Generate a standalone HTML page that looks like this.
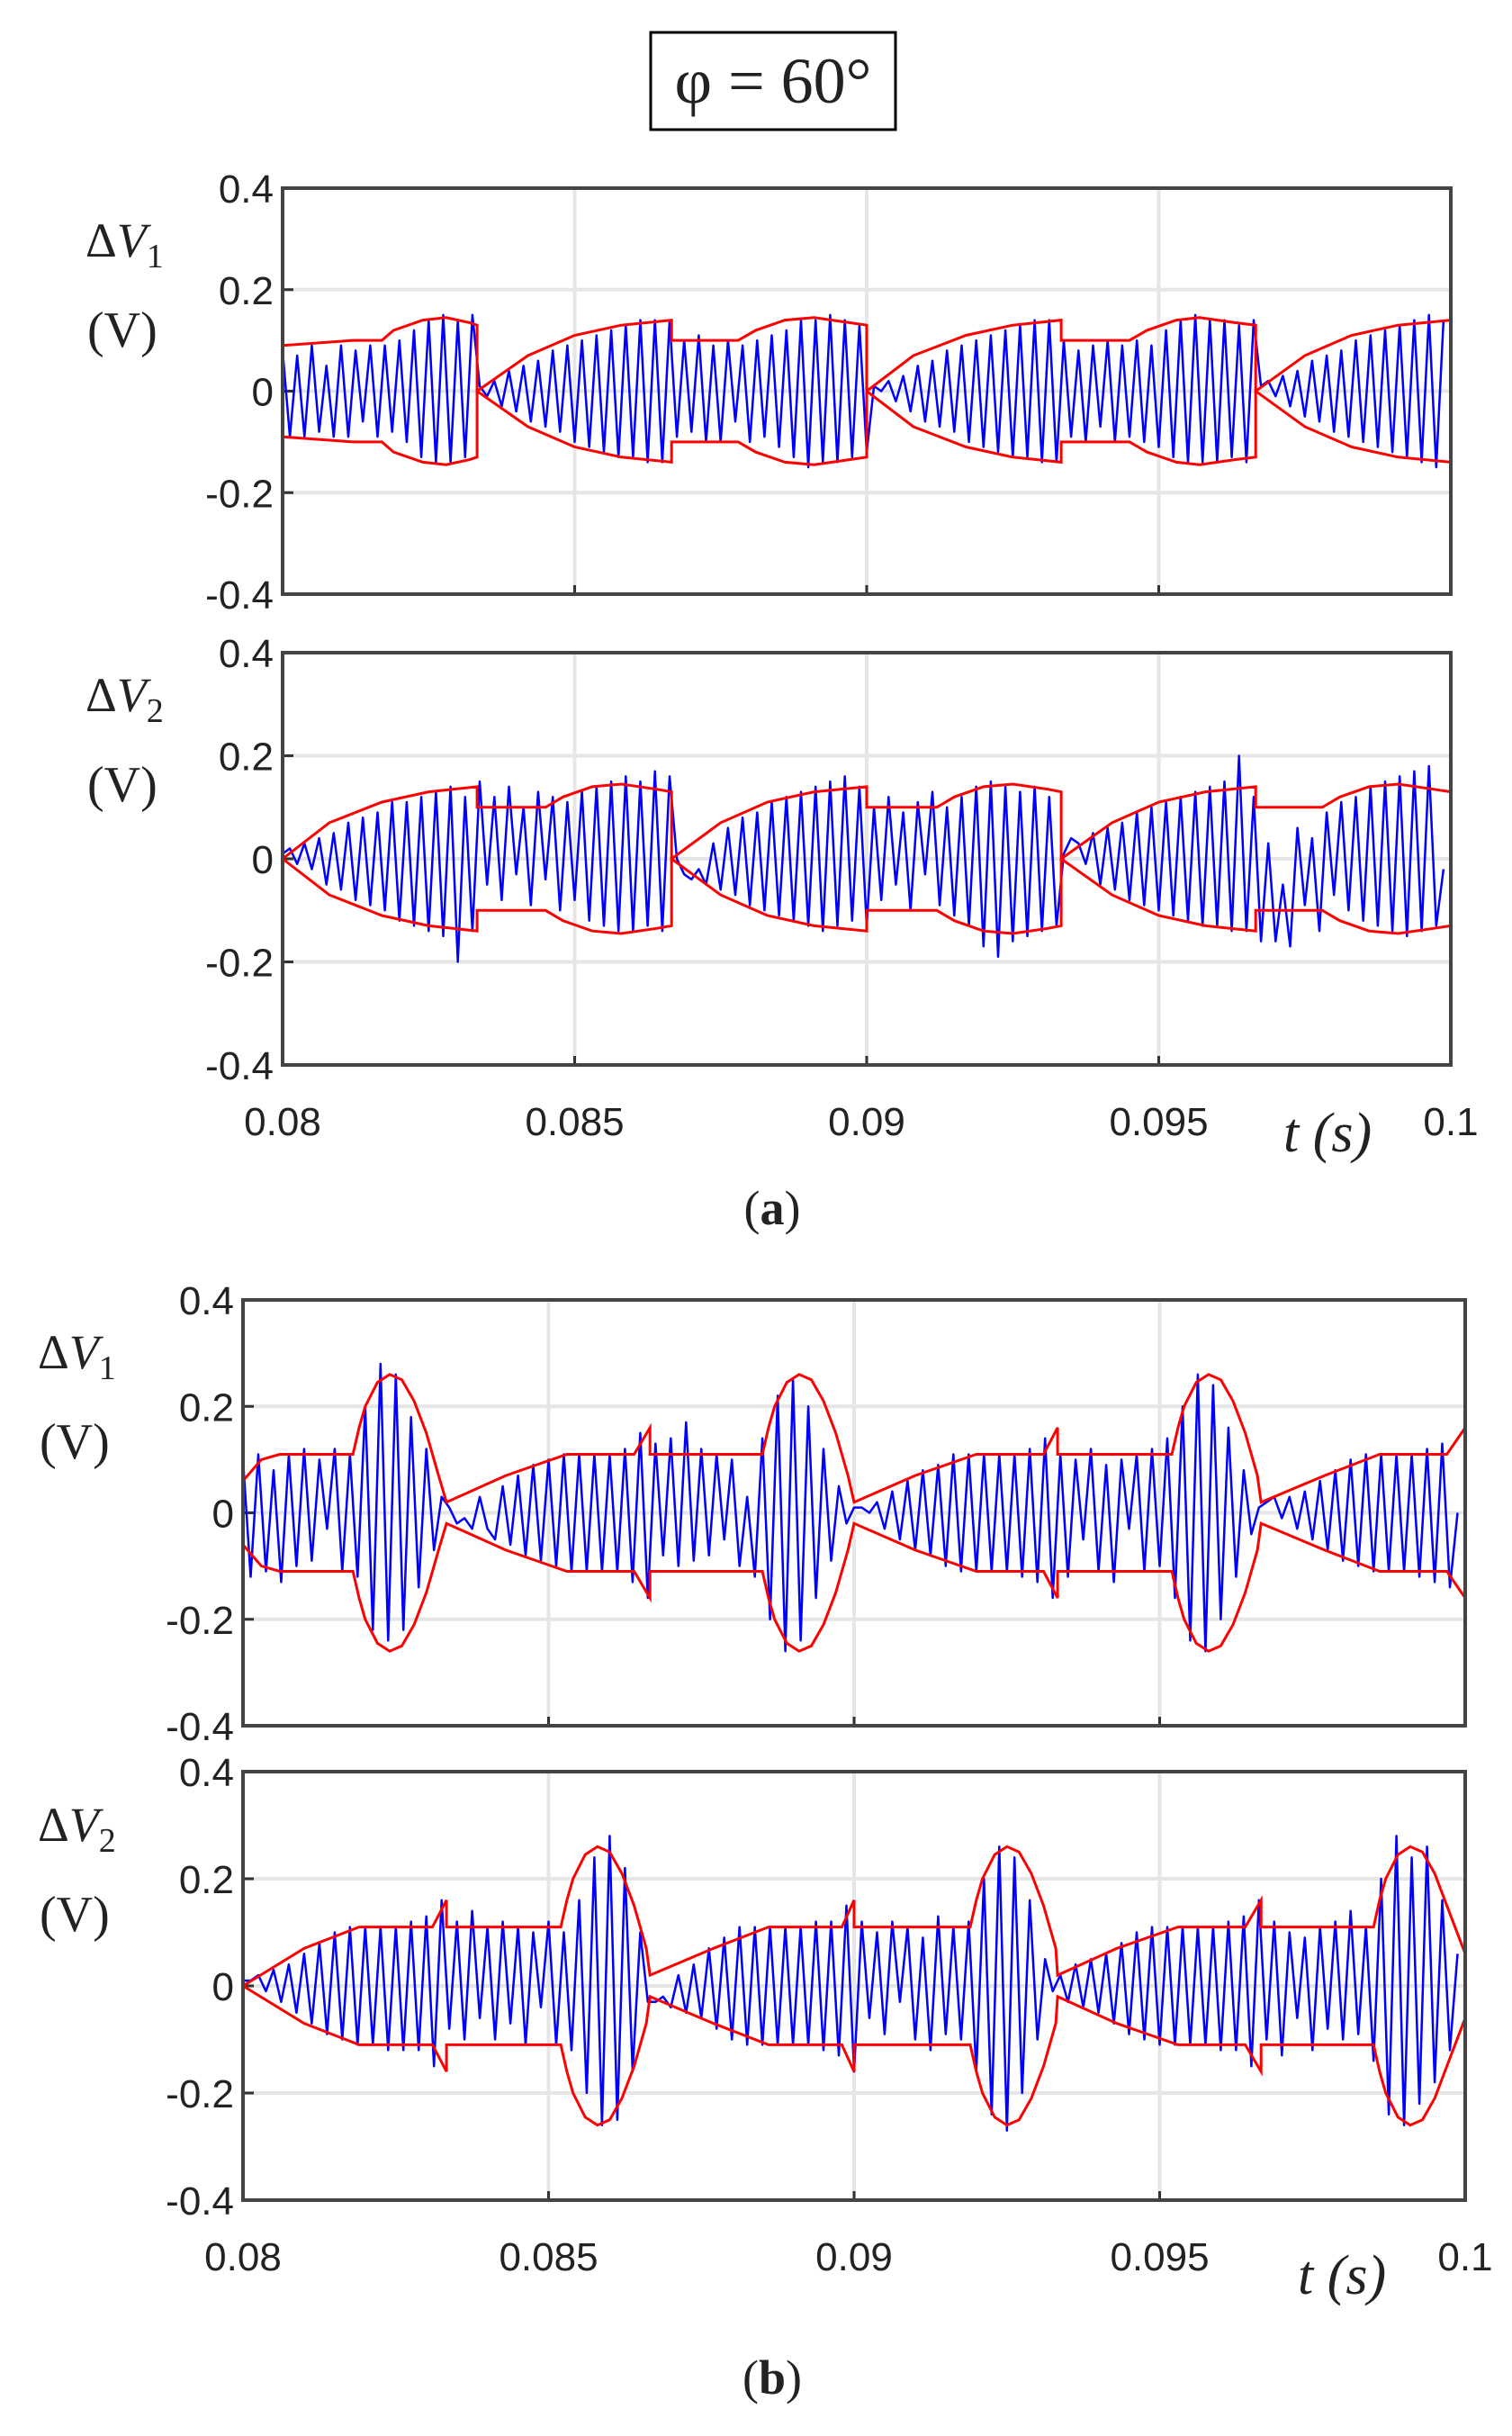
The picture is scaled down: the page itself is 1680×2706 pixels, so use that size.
<!DOCTYPE html>
<html><head><meta charset="utf-8"><style>
html,body{margin:0;padding:0;background:#fff;}
svg{display:block;}
.tk{font-family:"Liberation Sans",sans-serif;font-size:44px;fill:#222;}
.sr{font-family:"Liberation Serif",serif;fill:#222;}
</style></head><body>
<svg id="fig" width="1680" height="2706" viewBox="0 0 1680 2706" xmlns="http://www.w3.org/2000/svg">
<rect x="0" y="0" width="1680" height="2706" fill="#fff"/>
<rect x="723" y="36" width="272" height="108" fill="#fff" stroke="#000" stroke-width="3"/>
<text class="sr" x="859" y="114" font-size="72" text-anchor="middle">φ = 60°</text>
<text class="sr" x="858" y="1360" font-size="54" text-anchor="middle">(<tspan font-weight="bold">a</tspan>)</text>
<text class="sr" x="858" y="2659" font-size="54" text-anchor="middle">(<tspan font-weight="bold">b</tspan>)</text>
</svg>
<script>
const yTicks=[0.4,0.2,0,-0.2,-0.4];
const yTickLabels=["0.4","0.2","0","-0.2","-0.4"];
const xTicks=[0.08,0.085,0.09,0.095,0.1];
const xTickLabels=["0.08","0.085","0.09","0.095","0.1"];
const sigT0=0.08;
const sigDt=0.000125;
// blue signal values (hundredths of V)
const sigA1=[8,-9,7,-9,9,-8,5,-9,9,-9,8,-6,9,-9,9,-8,10,-10,12,-13,14,-14,15,-14,14,-13,15,
1,-1,2,-3,4,-4,5,-6,6,-7,8,-8,9,-10,10,-11,11,-12,12,-13,13,-13,14,-14,14,-14,14,
-9,10,-8,11,-10,9,-10,10,-6,9,-10,10,-9,11,-11,12,-13,14,-15,14,-14,15,-14,14,-13,13,-12,
1,0,2,-2,3,-4,5,-6,6,-7,8,-8,9,-10,10,-11,11,-12,12,-13,13,-13,14,-14,14,-14,
10,-9,8,-10,9,-7,10,-10,9,-9,10,-10,9,-11,12,-13,14,-14,15,-14,14,-14,14,-13,13,-14,14,
1,2,-1,3,-3,4,-5,6,-6,7,-8,8,-9,10,-10,11,-11,12,-12,13,-13,14,-14,15,-15,14];
const sigA2=[1,2,-1,3,-2,4,-5,5,-6,7,-8,8,-9,9,-10,11,-12,11,-13,12,-14,13,-15,14,-20,12,-14,
15,-5,12,-8,14,-3,10,-9,13,-4,12,-10,11,-8,13,-12,14,-13,15,-14,16,-14,15,-13,17,-14,16,
0,-3,-4,-2,-5,3,-6,6,-7,8,-9,9,-10,11,-11,12,-12,13,-13,14,-14,15,-13,16,-12,14,-13,
10,-8,12,-5,9,-10,11,-3,13,-9,10,-11,12,-13,14,-17,15,-19,14,-16,13,-15,14,-14,12,-13,
1,4,3,-1,5,-5,6,-6,7,-8,9,-9,10,-10,11,-11,12,-12,13,-13,14,-13,15,-14,20,-14,12,
-16,3,-16,-5,-17,6,-9,4,-14,9,-7,11,-10,12,-12,14,-13,15,-14,16,-15,17,-14,18,-13,-2];
const sigB1=[10,-12,11,-11,8,-13,11,-10,12,-9,10,-3,12,-11,11,-12,20,-22,28,-24,26,-22,18,-14,12,-7,3,
1,-2,-1,-3,3,-3,-5,5,-6,7,-8,9,-9,10,-10,11,-11,11,-11,11,-11,11,-11,12,-13,15,-16,
13,-8,14,-10,17,-9,12,-8,11,-5,10,-10,3,-12,14,-20,22,-26,25,-24,20,-16,12,-9,5,-2,1,
1,0,2,-3,4,-5,6,-7,8,-8,9,-10,11,-11,11,-11,11,-11,11,-11,11,-12,12,-13,14,-16,
11,-12,10,-5,12,-11,9,-13,10,-3,11,-11,12,-10,14,-16,20,-24,26,-26,24,-20,16,-12,8,-4,1,
2,3,-1,3,-3,4,-5,6,-7,8,-9,10,-10,11,-11,11,-11,11,-11,11,-12,12,-13,13,-14,0];
const sigB2=[1,1,2,-1,3,-3,4,-5,6,-7,8,-9,10,-10,11,-11,11,-11,11,-12,11,-12,12,-12,13,-15,16,
-8,12,-10,14,-6,11,-10,12,-7,11,-11,10,-4,12,-11,10,-12,16,-20,24,-26,28,-25,22,-16,10,-3,
-3,-2,-4,2,-5,4,-6,7,-8,9,-10,11,-11,11,-11,11,-11,11,-11,11,-11,12,-12,12,-13,15,-16,
12,-6,10,-9,12,-3,11,-10,9,-12,13,-9,11,-10,12,-16,20,-24,26,-27,24,-20,16,-10,5,-1,
2,-3,4,-4,5,-5,6,-7,8,-9,10,-10,11,-11,11,-11,11,-11,11,-11,11,-12,12,-12,13,-15,16,
-10,12,-13,10,-6,9,-12,11,-8,12,-10,14,-9,11,-14,20,-24,28,-26,24,-22,26,-18,16,-12,6];
// envelope (upper; lower mirrored)
const envA1T=[0.08,0.08,0.0812,0.0817,0.0819,0.0824,0.0828,0.0832,0.08333,0.08333,0.0842,0.085,0.0858,0.08666,0.08666,0.0878,0.0881,0.0886,0.0891,0.0897,0.09,0.09,0.0908,0.0917,0.0925,0.09333,0.09333,0.0945,0.0948,0.0953,0.0957,0.0963,0.09666,0.09666,0.0975,0.0983,0.0991,0.1];
const envA1V=[0.13,0.09,0.10,0.10,0.12,0.14,0.145,0.135,0.13,0,0.07,0.11,0.13,0.14,0.10,0.10,0.12,0.14,0.145,0.135,0.13,0,0.07,0.11,0.13,0.14,0.10,0.10,0.12,0.14,0.145,0.135,0.13,0,0.07,0.11,0.13,0.14];
const envA2T=[0.08,0.08,0.0808,0.0817,0.0825,0.08333,0.08333,0.0845,0.0848,0.0853,0.0858,0.0864,0.08666,0.08666,0.0875,0.0883,0.0891,0.09,0.09,0.0912,0.0915,0.092,0.0925,0.0931,0.09333,0.09333,0.0942,0.095,0.0958,0.09666,0.09666,0.0978,0.0981,0.0986,0.0991,0.0997,0.1];
const envA2V=[0.12,0,0.07,0.11,0.13,0.14,0.10,0.10,0.12,0.14,0.145,0.135,0.13,0,0.07,0.11,0.13,0.14,0.10,0.10,0.12,0.14,0.145,0.135,0.13,0,0.07,0.11,0.13,0.14,0.10,0.10,0.12,0.14,0.145,0.135,0.13];
const envB1T=[0.08,0.08,0.0803,0.0806,0.0818,0.0819,0.0820,0.0822,0.0824,0.0826,0.0828,0.0830,0.0832,0.08333,0.0843,0.0853,0.0864,0.08666,0.08666,0.0885,0.0886,0.0887,0.0889,0.0891,0.0893,0.0895,0.0897,0.0899,0.09,0.091,0.092,0.0931,0.09333,0.09333,0.0952,0.0953,0.0954,0.0956,0.0958,0.0960,0.0962,0.0964,0.0966,0.09666,0.0977,0.0986,0.0997,0.1];
const envB1V=[0.16,0.06,0.10,0.11,0.11,0.16,0.20,0.245,0.26,0.25,0.21,0.15,0.07,0.02,0.07,0.11,0.11,0.16,0.11,0.11,0.16,0.20,0.245,0.26,0.25,0.21,0.15,0.07,0.02,0.07,0.11,0.11,0.16,0.11,0.11,0.16,0.20,0.245,0.26,0.25,0.21,0.15,0.07,0.02,0.07,0.11,0.11,0.16];
const envB2T=[0.08,0.08,0.081,0.0819,0.0831,0.08333,0.08333,0.0852,0.0853,0.0854,0.0856,0.0858,0.0860,0.0862,0.0864,0.0866,0.08666,0.0877,0.0886,0.0898,0.09,0.09,0.0919,0.0920,0.0921,0.0923,0.0925,0.0927,0.0929,0.0931,0.0933,0.09333,0.0943,0.0953,0.0964,0.09666,0.09666,0.0985,0.0986,0.0987,0.0989,0.0991,0.0993,0.0995,0.0997,0.1];
const envB2V=[0.05,0,0.07,0.11,0.11,0.16,0.11,0.11,0.16,0.20,0.245,0.26,0.25,0.21,0.15,0.07,0.02,0.07,0.11,0.11,0.16,0.11,0.11,0.16,0.20,0.245,0.26,0.25,0.21,0.15,0.07,0.02,0.07,0.11,0.11,0.16,0.11,0.11,0.16,0.20,0.245,0.26,0.25,0.21,0.15,0.06];

const NS="http://www.w3.org/2000/svg";
const svg=document.getElementById('fig');
function mk(tag,attrs,parent){const e=document.createElementNS(NS,tag);for(const k in attrs)e.setAttribute(k,attrs[k]);(parent||svg).appendChild(e);return e;}

function panel(p){
  const sx=t=>p.x0+(t-0.08)/0.02*(p.x1-p.x0);
  const sy=v=>p.y0+(0.4-v)/0.8*(p.y1-p.y0);
  const g=mk('g',{});
  
  
  xTicks.forEach((t,i)=>{
    const l=mk('line',{x1:sx(t),x2:sx(t),y1:p.y0,y2:p.y1,stroke:'#e6e6e6','stroke-width':4},g);
    
    
    const k=mk('line',{x1:sx(t),x2:sx(t),y1:p.y1,y2:p.y1-10,stroke:'#333','stroke-width':3},g);
    
    
  });
  yTicks.forEach((v,i)=>{
    const l=mk('line',{x1:p.x0,x2:p.x1,y1:sy(v),y2:sy(v),stroke:'#e6e6e6','stroke-width':4},g);
    
    
    const k=mk('line',{x1:p.x0,x2:p.x0+12,y1:sy(v),y2:sy(v),stroke:'#333','stroke-width':3},g);
    
    
    const tx=mk('text',{x:p.x0-10,y:sy(v)+16,'text-anchor':'end',class:'tk'},g);
    tx.textContent=yTickLabels[i];
    
    
  });
  let up='',lo='';
  p.envT.forEach((t,i)=>{up+=(i?'L':'M')+sx(t).toFixed(1)+' '+sy(p.envV[i]).toFixed(1);lo+=(i?'L':'M')+sx(t).toFixed(1)+' '+sy(-p.envV[i]).toFixed(1);});
  let s='';
  p.sig.forEach((v,i)=>{s+=(i?'L':'M')+sx(sigT0+i*sigDt).toFixed(1)+' '+sy(v/100).toFixed(1);});
  const bl=mk('path',{d:s,fill:'none',stroke:'#0000ff','stroke-width':2.5,'stroke-linejoin':'round'},g);
  
  
  const eu=mk('path',{d:up,fill:'none',stroke:'#ff0000','stroke-width':3},g);
  
  
  const el=mk('path',{d:lo,fill:'none',stroke:'#ff0000','stroke-width':3},g);
  
  
  const fr=mk('rect',{x:p.x0,y:p.y0,width:p.x1-p.x0,height:p.y1-p.y0,fill:'none',stroke:'#444','stroke-width':4},g);
  
  
  const yl=mk('text',{x:p.lx,y:p.ly,class:'sr','font-size':54},g);
  yl.innerHTML='Δ<tspan font-style="italic">V</tspan><tspan font-size="38" dy="12">'+p.sub+'</tspan>';
  
  
  const yu=mk('text',{x:p.lx+2,y:p.ly+100,class:'sr','font-size':56},g);
  yu.textContent='(V)';
  
  
  if(p.xlab){
    xTicks.forEach((t,i)=>{
      const tx=mk('text',{x:sx(t),y:p.y1+78,'text-anchor':'middle',class:'tk'},g);
      tx.textContent=xTickLabels[i];
      
      
    });
    const xt=mk('text',{x:p.x1-186,y:p.y1+(p.xl||92),class:'sr','font-size':62,'font-style':'italic'},g);
    xt.textContent='t (s)';
    
    
  }
}
panel({name:'panel-a-dv1',x0:314,x1:1612,y0:209,y1:660,envT:envA1T,envV:envA1V,sig:sigA1,sub:'1',lx:95,ly:285});
panel({name:'panel-a-dv2',x0:314,x1:1612,y0:725,y1:1183,envT:envA2T,envV:envA2V,sig:sigA2,sub:'2',lx:95,ly:790,xlab:true,xl:96});
panel({name:'panel-b-dv1',x0:270,x1:1628,y0:1444,y1:1917,envT:envB1T,envV:envB1V,sig:sigB1,sub:'1',lx:42,ly:1520});
panel({name:'panel-b-dv2',x0:270,x1:1628,y0:1968,y1:2444,envT:envB2T,envV:envB2V,sig:sigB2,sub:'2',lx:42,ly:2045,xlab:true,xl:104});
</script>
</body></html>
